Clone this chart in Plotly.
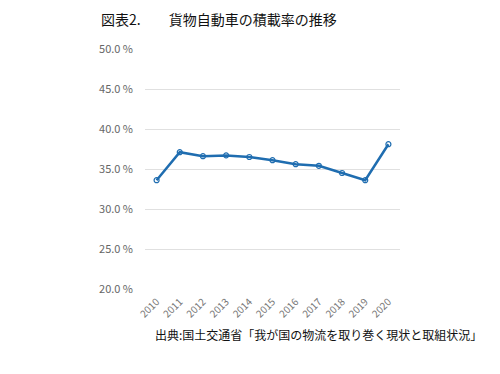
import plotly.graph_objects as go

years = ["2010", "2011", "2012", "2013", "2014", "2015", "2016", "2017", "2018", "2019", "2020"]
load_rate = [33.6, 37.1, 36.6, 36.7, 36.5, 36.1, 35.6, 35.4, 34.5, 33.6, 38.1]
y_ticks = [20, 25, 30, 35, 40, 45, 50]
y_tick_labels = ["20.0 %", "25.0 %", "30.0 %", "35.0 %", "40.0 %", "45.0 %", "50.0 %"]

fig = go.Figure()
fig.add_trace(go.Scatter(
    x=years, y=load_rate, mode="lines+markers",
    line=dict(color="#1f6db0", width=2.5),
    marker=dict(symbol="circle-open", size=5, color="#1f6db0", line=dict(width=1.2)),
    showlegend=False,
))

fig.update_layout(
    width=500, height=374,
    margin=dict(l=145, r=100, t=49, b=85),
    paper_bgcolor="white", plot_bgcolor="white",
    font=dict(family="Noto Sans CJK JP, sans-serif", color="#595959"),
    xaxis=dict(type="category", range=[-0.5, 10.5], tickangle=-45, automargin=False,
               showgrid=False, showline=False, ticks="", ticklabelstandoff=4,
               tickfont=dict(size=10, color="#777777")),
    yaxis=dict(range=[20, 50], tickvals=y_ticks, ticktext=y_tick_labels, automargin=False,
               showgrid=True, gridcolor="#e0e0e0", gridwidth=1,
               zeroline=False, showline=False, ticks="", ticklen=0,
               ticklabelstandoff=11,
               tickfont=dict(size=11, color="#666666")),
    annotations=[
        dict(text="図表2.\u3000\u3000貨物自動車の積載率の推移", xref="paper", yref="paper",
             x=-0.18, y=1.125, xanchor="left", yanchor="middle", showarrow=False,
             font=dict(size=14, color="#111111", family="Noto Sans CJK JP")),
        dict(text="出典:国土交通省「我が国の物流を取り巻く現状と取組状況」", xref="paper", yref="paper",
             x=1.33, y=-0.19, xanchor="right", yanchor="middle", showarrow=False,
             font=dict(size=12, color="#111111", family="Noto Sans CJK JP")),
    ],
)

fig.write_html("out.html", config={"displayModeBar": False},
               post_script="document.body.style.margin='0';")
